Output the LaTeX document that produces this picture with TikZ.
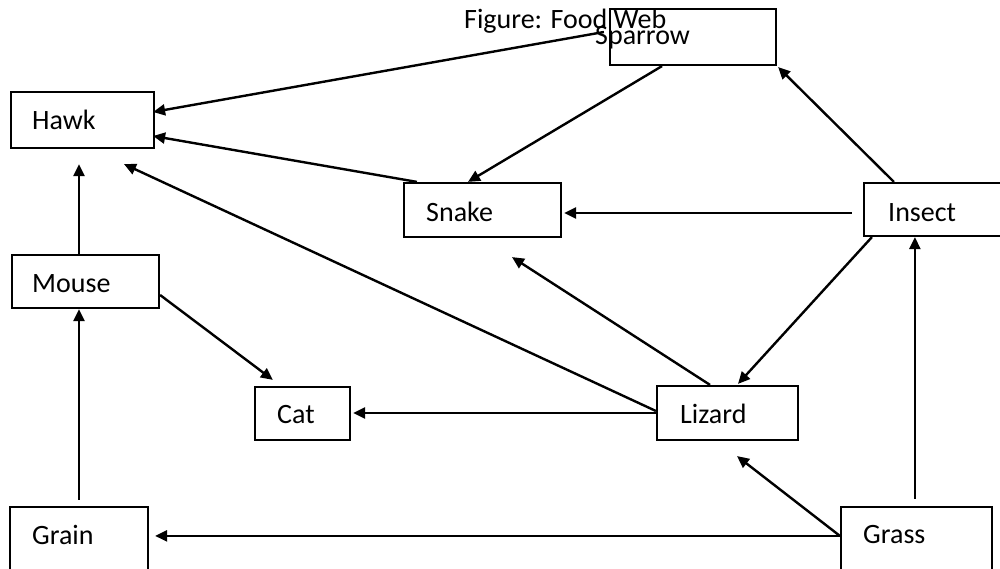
\documentclass[tikz,border=0pt]{standalone}
\usepackage{fontspec}
\setmainfont{Carlito}
\usetikzlibrary{arrows.meta,calc}
\begin{document}
\begin{tikzpicture}[x=1pt,y=-1pt,
  box/.style={draw,line width=2.2pt,inner sep=0pt,fill=none},
  lbl/.style={inner sep=0pt,anchor=base west,font=\fontsize{28}{33}\selectfont},
  conn/.style={line width=2.4pt,-{Triangle[length=12pt,width=11pt]}}]
\clip (0,0) rectangle (1000,569);
\fill[white] (0,0) rectangle (1000,569);
% boxes
\node[box,minimum width=166pt,minimum height=56pt] (sparrow) at (693,37) {};
\node[box,minimum width=143pt,minimum height=56pt] (hawk) at (82.5,120) {};
\node[box,minimum width=157pt,minimum height=54pt] (snake) at (482.5,210) {};
\node[box,minimum width=146pt,minimum height=53pt] (insect) at (937,209.5) {};
\node[box,minimum width=147pt,minimum height=53pt] (mouse) at (85.5,281.5) {};
\node[box,minimum width=95pt,minimum height=53pt] (cat) at (302.5,413.5) {};
\node[box,minimum width=141pt,minimum height=54pt] (lizard) at (727.5,413) {};
\node[box,minimum width=138pt,minimum height=73pt] (grain) at (79,543.5) {};
\node[box,minimum width=151pt,minimum height=73pt] (grass) at (916.5,543.5) {};
% texts
\node[lbl] (title) at (464,29) {Figure: Food Web};
\node[lbl] (sparrowt) at (595,45) {Sparrow};
\node[lbl] (hawkt) at (32,130) {Hawk};
\node[lbl] (snaket) at (426,222) {Snake};
\node[lbl] (insectt) at (888,222) {Insect};
\node[lbl] (mouset) at (32,292) {Mouse};
\node[lbl] (catt) at (277,423) {Cat};
\node[lbl] (lizardt) at (680,423) {Lizard};
\node[lbl] (graint) at (32,544) {Grain};
\node[lbl] (grasst) at (863,543) {Grass};
% connectors
\draw[conn] ($(sparrow.west)+(-5,-5)$) -- ($(hawk.east)+(-2,-8)$);
\draw[conn] ($(snake.north west)+(14,0)$) -- ($(hawk.east)+(-2,16)$);
\draw[conn] ($(lizard.west)+(0,-2)$) -- ($(hawk.south)+(41.5,15)$);
\draw[conn] ($(mouse.north)+(-6.5,0)$) -- ($(hawk.south)+(-3.5,15)$);
\draw[conn] ($(grain.north)+(0,-6)$) -- ($(mouse.south)+(-6.5,0)$);
\draw[conn] ($(mouse.east)+(0,13.5)$) -- ($(cat.north west)+(19,-6)$);
\draw[conn] (lizard.west) -- ($(cat.east)+(2,-0.5)$);
\draw[conn] ($(sparrow.south)+(-31,0)$) -- ($(snake.north)+(-14.5,0)$);
\draw[conn] ($(insect.west)+(-11,3.5)$) -- ($(snake.east)+(2,3)$);
\draw[conn] ($(insect.north west)+(31,0)$) -- ($(sparrow.south east)+(1,1)$);
\draw[conn] ($(insect.south west)+(9,0)$) -- ($(lizard.north)+(10.5,-1)$);
\draw[conn] ($(lizard.north)+(-17.5,0)$) -- ($(snake.south)+(29.5,19)$);
\draw[conn] ($(grass.north west)+(75,-7)$) -- ($(insect.south west)+(52,0)$);
\draw[conn] ($(grass.north west)+(0,30)$) -- ($(lizard.south)+(9.5,15)$);
\draw[conn] ($(grass.north west)+(0,30)$) -- ($(grain.north east)+(6,30)$);
\end{tikzpicture}
\end{document}
